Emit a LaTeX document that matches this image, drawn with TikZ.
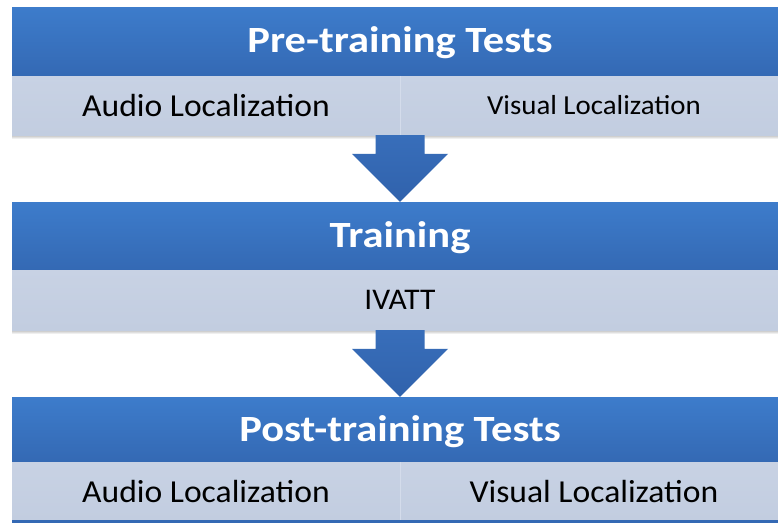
\documentclass[tikz,border=0pt]{standalone}
\usepackage{fontspec}
\setmainfont{Carlito}
\newfontfamily\hdrfont[FakeStretch=1.15]{Carlito}
\newfontfamily\rowfont[FakeStretch=1.05]{Carlito}
\usetikzlibrary{calc}
\definecolor{hdrtop}{RGB}{61,124,203}
\definecolor{hdrmid}{RGB}{58,118,196}
\definecolor{hdrbot}{RGB}{52,105,180}
\definecolor{rowtop}{RGB}{200,210,228}
\definecolor{rowbot}{RGB}{194,205,224}
\definecolor{arrtop}{RGB}{56,110,186}
\definecolor{arrbot}{RGB}{48,98,172}
\definecolor{divline}{RGB}{212,220,235}
\tikzset{
  hdr/.style={rectangle, inner sep=0pt, minimum width=776pt, top color=hdrtop, middle color=hdrmid, bottom color=hdrbot},
  hdrtext/.style={text=white, inner sep=0pt, anchor=base, font=\hdrfont\bfseries\fontsize{37}{44}\selectfont},
  rowbox/.style={rectangle, inner sep=0pt, top color=rowtop, bottom color=rowbot},
  rowtext/.style={inner sep=0pt, text=black, font=\rowfont\fontsize{32}{38}\selectfont},
  shadowline/.style={top color=black!25, bottom color=white, draw=none},
  bigarrow/.style={top color=arrtop, bottom color=arrbot, draw=none},
}
\begin{document}
\begin{tikzpicture}[x=1pt,y=1pt]
\useasboundingbox (0,0) rectangle (778,-523);
\clip (0,0) rectangle (778,-523);
\fill[white] (0,0) rectangle (778,-523);

% shadows under light rows
\shade[shadowline] (12,-135) rectangle (788,-139);
\shade[shadowline] (12,-330) rectangle (788,-334);

% block 1
\node[hdr, minimum height=69pt] (h1) at (400,-41.5) {};
\node[hdrtext] (t1) at (400,-52) {Pre-training Tests};
\node[rowbox, minimum width=776pt, minimum height=59pt] (l1) at (400,-105.5) {};
\draw[divline, line width=1pt] (l1.north) -- (l1.south);
\node[rowtext] (a1) at (206,-105.5) {Audio Localization};
\node[rowtext, font=\rowfont\fontsize{27.5}{33}\selectfont] (v1) at (594,-105.5) {Visual Localization};

% block 2
\node[hdr, minimum height=68pt] (h2) at (400,-236) {};
\node[hdrtext] (t2) at (400,-247) {Training};
\node[rowbox, minimum width=776pt, minimum height=60pt] (l2) at (400,-300) {};
\node[rowtext, font=\rowfont\fontsize{30}{36}\selectfont] (iv) at (400,-300) {IVATT};

% block 3
\node[hdr, minimum height=65pt] (h3) at (400,-429.5) {};
\node[hdrtext] (t3) at (400,-441.5) {Post-training Tests};
\node[rowbox, minimum width=776pt, minimum height=58pt] (l3) at (400,-491) {};
\draw[divline, line width=1pt] (l3.north) -- (l3.south);
\node[rowtext] (a3) at (206,-491) {Audio Localization};
\node[rowtext] (v3) at (594,-491) {Visual Localization};
\fill[hdrbot] (l3.south west) rectangle ($(l3.south east)+(0,-3)$);

% arrows
\shade[bigarrow] ($(l1.south)+(-24.5,0)$) -- ($(l1.south)+(24.5,0)$) -- ($(h2.north)+(24.5,48)$)
  -- ($(h2.north)+(48,48)$) -- (h2.north) -- ($(h2.north)+(-48,48)$) -- ($(h2.north)+(-24.5,48)$) -- cycle;
\shade[bigarrow] ($(l2.south)+(-24.5,0)$) -- ($(l2.south)+(24.5,0)$) -- ($(h3.north)+(24.5,48)$)
  -- ($(h3.north)+(48,48)$) -- (h3.north) -- ($(h3.north)+(-48,48)$) -- ($(h3.north)+(-24.5,48)$) -- cycle;
\end{tikzpicture}
\end{document}
